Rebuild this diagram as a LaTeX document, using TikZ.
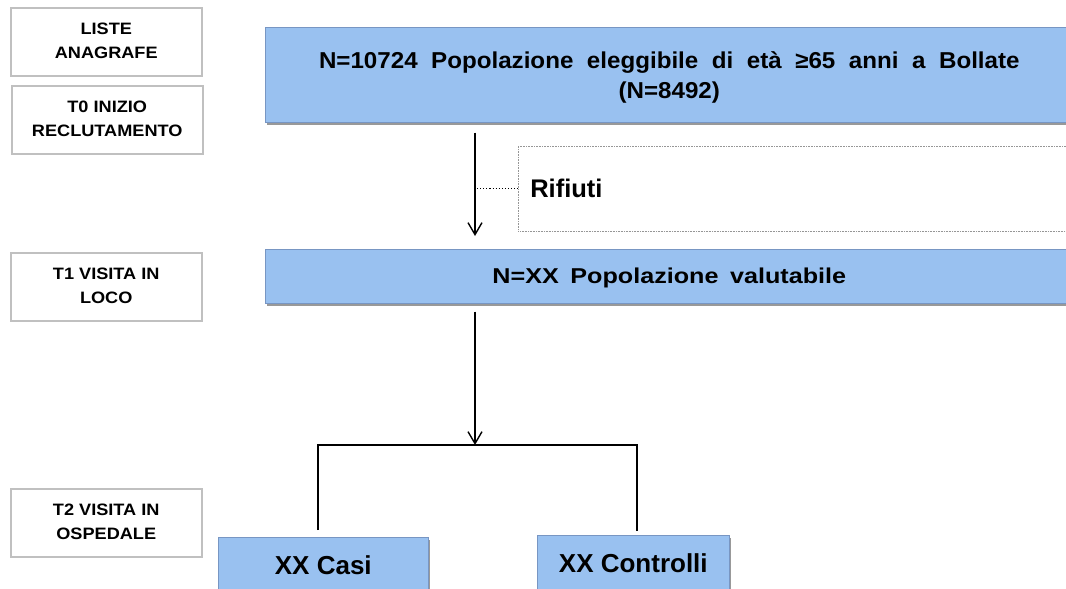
\documentclass[tikz,border=0pt]{standalone}
\usepackage{fontspec}
\setmainfont{Liberation Sans}
\usetikzlibrary{arrows.meta}
\definecolor{boxblue}{RGB}{153,193,240}
\definecolor{boxedge}{RGB}{120,150,195}
\definecolor{lblgray}{RGB}{192,192,192}
\definecolor{dotgray}{RGB}{150,150,150}
\newcommand{\wtxt}[3]{\scalebox{#1}[1]{\spaceskip=#2\relax\begin{tabular}{@{}c@{}}#3\end{tabular}}}
\begin{document}
\begin{tikzpicture}[x=1pt,y=-1pt,
  lbl/.style={draw=lblgray,line width=1.5pt,fill=white,minimum width=191pt,
    minimum height=68pt,inner sep=0pt,anchor=north west,
    font=\bfseries\fontsize{16.5}{23.5}\selectfont},
  bluebox/.style={fill=boxblue,draw=boxedge,line width=0.6pt,inner sep=0pt,
    anchor=north west,
    preaction={fill=black!40,transform canvas={xshift=1.5pt,yshift=-3pt}}},
  arr/.style={line width=1.4pt,-{Straight Barb[length=12pt,width=14pt,line width=1.4pt]}},
  link/.style={line width=1.1pt}]
\useasboundingbox (0,0) rectangle (1066,589);
\clip (0,0) rectangle (1066,589);

% left labels
\node[lbl] (l0) at (10,7) {\wtxt{1.1}{0.28em}{LISTE\\ANAGRAFE}};
\node[lbl] (l1) at (11,85) {\wtxt{1.1}{0.28em}{T0 INIZIO\\RECLUTAMENTO}};
\node[lbl] (l2) at (10,252) {\wtxt{1.1}{0.28em}{T1 VISITA IN\\LOCO}};
\node[lbl] (l3) at (10,488) {\wtxt{1.1}{0.28em}{T2 VISITA IN\\OSPEDALE}};

% main boxes
\node[bluebox,minimum width=808pt,minimum height=95pt,
  label={[yshift=-3pt,font=\bfseries\fontsize{23}{30}\selectfont]center:%
  \wtxt{1.05}{0.56em}{N=10724 Popolazione eleggibile di età ≥65 anni a Bollate\\(N=8492)}}] (b1) at (265,27) {};

\node[draw=dotgray,densely dotted,line width=0.6pt,fill=white,anchor=west,
  minimum height=85pt,text width=540pt,align=left,inner xsep=12pt,inner ysep=0pt,
  font=\bfseries\fontsize{25.5}{30}\selectfont] (rif) at (518,188.5) {Rifiuti};

\node[bluebox,minimum width=808pt,minimum height=54pt,
  label={[yshift=-2pt,font=\bfseries\fontsize{21.5}{26}\selectfont]center:%
  \wtxt{1.17}{0.46em}{N=XX Popolazione valutabile}}] (b2) at (265,249) {};

\node[bluebox,minimum width=210pt,minimum height=56pt,
  font=\bfseries\fontsize{26}{30}\selectfont] (casi) at (218,537) {XX Casi};
\node[bluebox,minimum width=192pt,minimum height=56pt,
  font=\bfseries\fontsize{26}{30}\selectfont] (ctrl) at (537,535) {XX Controlli};

% connectors
\coordinate (ax) at (475,0);
\coordinate (bl) at (318,445);
\coordinate (br) at (637,445);
\draw[arr] ([yshift=-10pt]b1.south -| ax) -- ([yshift=13pt]b2.north -| ax);
\draw[line width=1.1pt,dotted] ([xshift=2pt]ax |- rif.west) -- (rif.west);
\draw[arr] ([yshift=-8pt]b2.south -| ax) -- (ax |- bl);
\draw[link] ([yshift=7pt]casi.north -| bl) -- (bl) -- (br) -- ([yshift=4pt]ctrl.north -| br);
\end{tikzpicture}
\end{document}
